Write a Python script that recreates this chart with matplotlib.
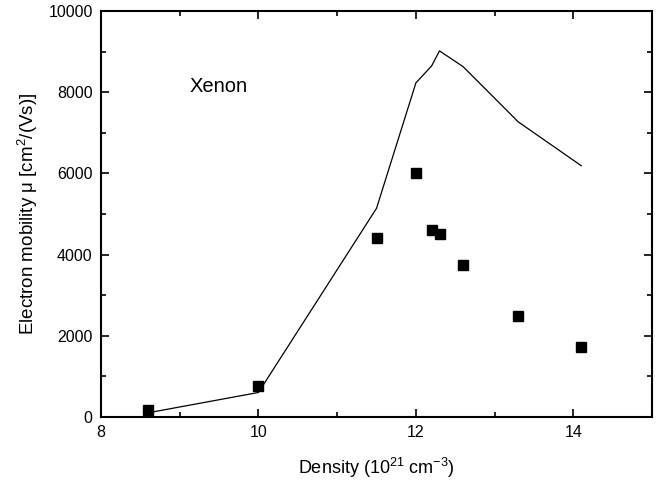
import matplotlib
matplotlib.use('Agg')
import matplotlib.pyplot as plt
from matplotlib.ticker import MultipleLocator

plt.rcParams['font.family'] = ['Liberation Sans', 'DejaVu Sans']
plt.rcParams['mathtext.fontset'] = 'custom'
plt.rcParams['mathtext.rm'] = 'Liberation Sans'
plt.rcParams['mathtext.it'] = 'Liberation Sans:italic'

# theory curve
line_density = [8.6, 10.0, 11.5, 12.0, 12.2, 12.3, 12.6, 13.3, 14.1]
line_mobility = [100, 600, 5140, 8230, 8650, 9020, 8630, 7270, 6190]

# measured points
exp_density = [8.6, 10.0, 11.5, 12.0, 12.2, 12.3, 12.6, 13.3, 14.1]
exp_mobility = [170, 760, 4400, 6000, 4600, 4500, 3730, 2490, 1710]

fig = plt.figure(figsize=(6.6, 4.83), dpi=100)
ax = fig.add_axes([0.153, 0.137, 0.835, 0.840])

ax.plot(line_density, line_mobility, color='black', linewidth=0.9)
ax.plot(exp_density, exp_mobility, linestyle='none', marker='s',
        markersize=7, color='black')

ax.set_xlim(8, 15)
ax.set_ylim(0, 10000)
ax.xaxis.set_major_locator(MultipleLocator(2))
ax.xaxis.set_minor_locator(MultipleLocator(1))
ax.yaxis.set_major_locator(MultipleLocator(2000))
ax.yaxis.set_minor_locator(MultipleLocator(1000))
ax.tick_params(which='both', direction='in', top=True, right=True,
               labelsize=11.5, width=1.2)
ax.tick_params(which='major', length=6, pad=6)
ax.tick_params(which='minor', length=3.5)
for s in ax.spines.values():
    s.set_linewidth(1.5)

ax.set_xlabel(r'Density (10$^{21}$ cm$^{-3}$)', fontsize=13, labelpad=11)
ax.set_ylabel(r'Electron mobility μ [cm$^{2}$/(Vs)]', fontsize=13.5, labelpad=6)

ax.text(9.13, 8130, 'Xenon', fontsize=14.5, ha='left', va='center')

fig.savefig('out.png', dpi=100)
